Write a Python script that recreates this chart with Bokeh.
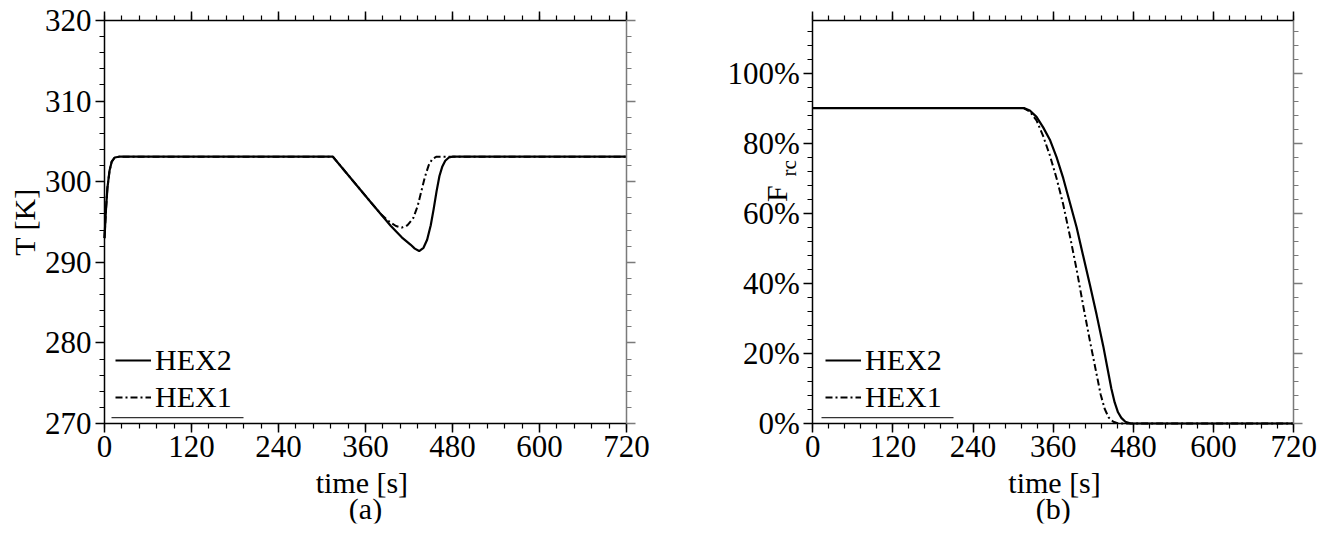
import math
from bokeh.plotting import figure
from bokeh.layouts import row
from bokeh.models import (Range1d, LinearAxis, FixedTicker, NumeralTickFormatter,
                          Legend, LegendItem, Label, BoxAnnotation)
from bokeh.embed import file_html
from bokeh.resources import INLINE

# ---------------- data ----------------
# (a) outlet temperature [K]
t_hex2_a = [0, 2, 4, 7, 10, 14, 20, 315, 340, 365, 381, 395, 410, 422, 428, 434,
            440, 445, 450, 454, 458, 462, 466, 470, 475, 480, 720]
T_hex2 = [293.0, 296.5, 299.2, 301.4, 302.5, 303.0, 303.1, 303.1, 300.4, 297.7, 296.0,
          294.5, 293.1, 292.2, 291.7, 291.4, 291.8, 292.8, 294.6, 296.6, 298.8, 300.7,
          301.9, 302.6, 303.0, 303.1, 303.1]
t_hex1_a = [0, 2, 4, 7, 10, 14, 20, 315, 340, 365, 381, 392, 402, 410, 418, 426,
            432, 437, 442, 447, 452, 458, 720]
T_hex1 = [293.0, 296.5, 299.2, 301.4, 302.5, 303.0, 303.1, 303.1, 300.4, 297.7, 296.0,
          295.1, 294.5, 294.3, 294.6, 295.5, 297.0, 298.8, 300.6, 302.0, 302.8, 303.1, 303.1]

# (b) F_rc fraction
t_hex2_b = [0, 316, 325, 335, 345, 355, 365, 375, 385, 395, 405, 415, 425, 435,
            441, 447, 452, 457, 462, 468, 476, 720]
F_hex2 = [0.90, 0.90, 0.893, 0.875, 0.845, 0.81, 0.76, 0.70, 0.63, 0.56, 0.477,
          0.395, 0.31, 0.22, 0.16, 0.10, 0.06, 0.032, 0.016, 0.005, 0.0, 0.0]
t_hex1_b = [0, 316, 325, 335, 345, 355, 365, 375, 385, 395, 405, 415, 425, 431,
            437, 443, 450, 458, 720]
F_hex1 = [0.90, 0.90, 0.89, 0.865, 0.82, 0.765, 0.70, 0.625, 0.535, 0.44, 0.335,
          0.235, 0.14, 0.083, 0.042, 0.017, 0.005, 0.0, 0.0]

x_ticks = [0, 120, 240, 360, 480, 600, 720]
x_minor = list(range(0, 721, 24))
T_ticks = [270, 280, 290, 300, 310, 320]
T_minor = list(range(270, 321, 2))
F_ticks = [0.0, 0.2, 0.4, 0.6, 0.8, 1.0]
F_minor = [round(0.04 * k, 2) for k in range(0, 29)]

FONT = "Liberation Serif"
TICK_FS = "31px"


def style_axis(ax, show_labels=True, line_color="black"):
    ax.axis_line_color = line_color
    ax.axis_line_width = 1.5
    ax.major_tick_line_color = line_color
    ax.minor_tick_line_color = line_color
    ax.major_tick_line_width = 1.5
    ax.minor_tick_line_width = 1.2
    ax.major_tick_in = 0
    ax.major_tick_out = 9
    ax.minor_tick_in = 0
    ax.minor_tick_out = 5
    ax.major_label_text_font = FONT
    if show_labels:
        ax.major_label_text_font_size = TICK_FS
        ax.major_label_text_color = "black"
        ax.major_label_standoff = 4
    else:
        ax.major_label_text_font_size = "1px"
        ax.major_label_text_color = None
        ax.major_label_standoff = 0


def add_legend(p, r_hex2, r_hex1, x0, y0):
    leg = Legend(items=[LegendItem(label="HEX2", renderers=[r_hex2]),
                        LegendItem(label="HEX1", renderers=[r_hex1])],
                 location=(x0, y0))
    leg.border_line_color = None
    leg.background_fill_alpha = 0
    leg.padding = 0
    leg.margin = 0
    leg.spacing = 3
    leg.glyph_width = 36
    leg.glyph_height = 30
    leg.label_height = 30
    leg.label_standoff = 4
    leg.label_text_font = FONT
    leg.label_text_font_size = "30px"
    leg.label_text_color = "black"
    leg.label_text_baseline = "middle"
    p.add_layout(leg)
    p.add_layout(BoxAnnotation(left=x0 - 4, right=x0 + 128, bottom=y0 - 3.8, top=y0 - 2.4,
                               left_units="screen", right_units="screen",
                               bottom_units="screen", top_units="screen",
                               fill_color="#333333", fill_alpha=1.0, line_color=None))


def txt(p, x, y, s, size, angle=0.0):
    p.add_layout(Label(x=x, y=y, text=s, text_font=FONT, text_font_size=size,
                       text_align="center", text_baseline="middle", angle=angle,
                       text_color="black"))


def setup_axes(p, xt, yt, x0, x1, y0, y1, yfmt=None):
    # every axis sits at a fixed data position (the frame is a little larger than
    # the data box, so that tick labels and titles are not clipped)
    p.grid.visible = False
    p.outline_line_color = None
    bx = p.below[0]
    ly = p.left[0]
    bx.ticker = xt
    bx.bounds = (x0, x1)
    bx.fixed_location = y0
    ly.ticker = yt
    ly.bounds = (y0, y1)
    ly.fixed_location = x0
    if yfmt is not None:
        ly.formatter = yfmt
    style_axis(bx)
    style_axis(ly)
    ta = LinearAxis(ticker=xt, bounds=(x0, x1), fixed_location=y1)
    style_axis(ta, show_labels=False)
    p.add_layout(ta, "above")
    ra = LinearAxis(ticker=yt, bounds=(y0, y1), fixed_location=x1)
    style_axis(ra, show_labels=False, line_color="#7a7a7a")
    p.add_layout(ra, "right")


# ---------------- (a) ----------------
xt_a = FixedTicker(ticks=x_ticks, minor_ticks=x_minor)
yt_a = FixedTicker(ticks=T_ticks, minor_ticks=T_minor)
p1 = figure(width=708, height=528, x_range=Range1d(-137.93, 766.9),
            y_range=Range1d(257.593, 322.233),
            output_backend="svg", toolbar_location=None,
            min_border_left=4, min_border_right=48, min_border_top=2,
            min_border_bottom=5)
setup_axes(p1, xt_a, yt_a, 0, 720, 270, 320)

r2a = p1.line(t_hex2_a, T_hex2, line_color="black", line_width=2.2)
r1a = p1.line(t_hex1_a, T_hex1, line_color="black", line_width=2.0, line_dash="7 3 2 3")
add_legend(p1, r2a, r1a, 111, 109)

txt(p1, -111, 295.0, "T [K]", "30px", math.pi / 2)
txt(p1, 355, 262.62, "time [s]", "30px")
txt(p1, 360, 259.45, "(a)", "30px")

# ---------------- (b) ----------------
xt_b = FixedTicker(ticks=x_ticks, minor_ticks=x_minor)
yt_b = FixedTicker(ticks=F_ticks, minor_ticks=F_minor)
p2 = figure(width=614, height=528, x_range=Range1d(-150, 760.1),
            y_range=Range1d(-0.2854, 1.2014),
            output_backend="svg", toolbar_location=None,
            min_border_left=4, min_border_right=2, min_border_top=2,
            min_border_bottom=5)
setup_axes(p2, xt_b, yt_b, 0, 720, 0, 1.15, NumeralTickFormatter(format="0%"))

r2b = p2.line(t_hex2_b, F_hex2, line_color="black", line_width=2.2)
r1b = p2.line(t_hex1_b, F_hex1, line_color="black", line_width=2.0, line_dash="7 3 2 3")
add_legend(p2, r2b, r1b, 113, 109)

txt(p2, -54, 0.656, "F", "30px", math.pi / 2)
txt(p2, -36, 0.728, "rc", "21px", math.pi / 2)
txt(p2, 362, -0.1698, "time [s]", "30px")
txt(p2, 360, -0.2426, "(b)", "30px")

layout = row(p1, p2)
open("out.html", "w").write(file_html(layout, INLINE))
